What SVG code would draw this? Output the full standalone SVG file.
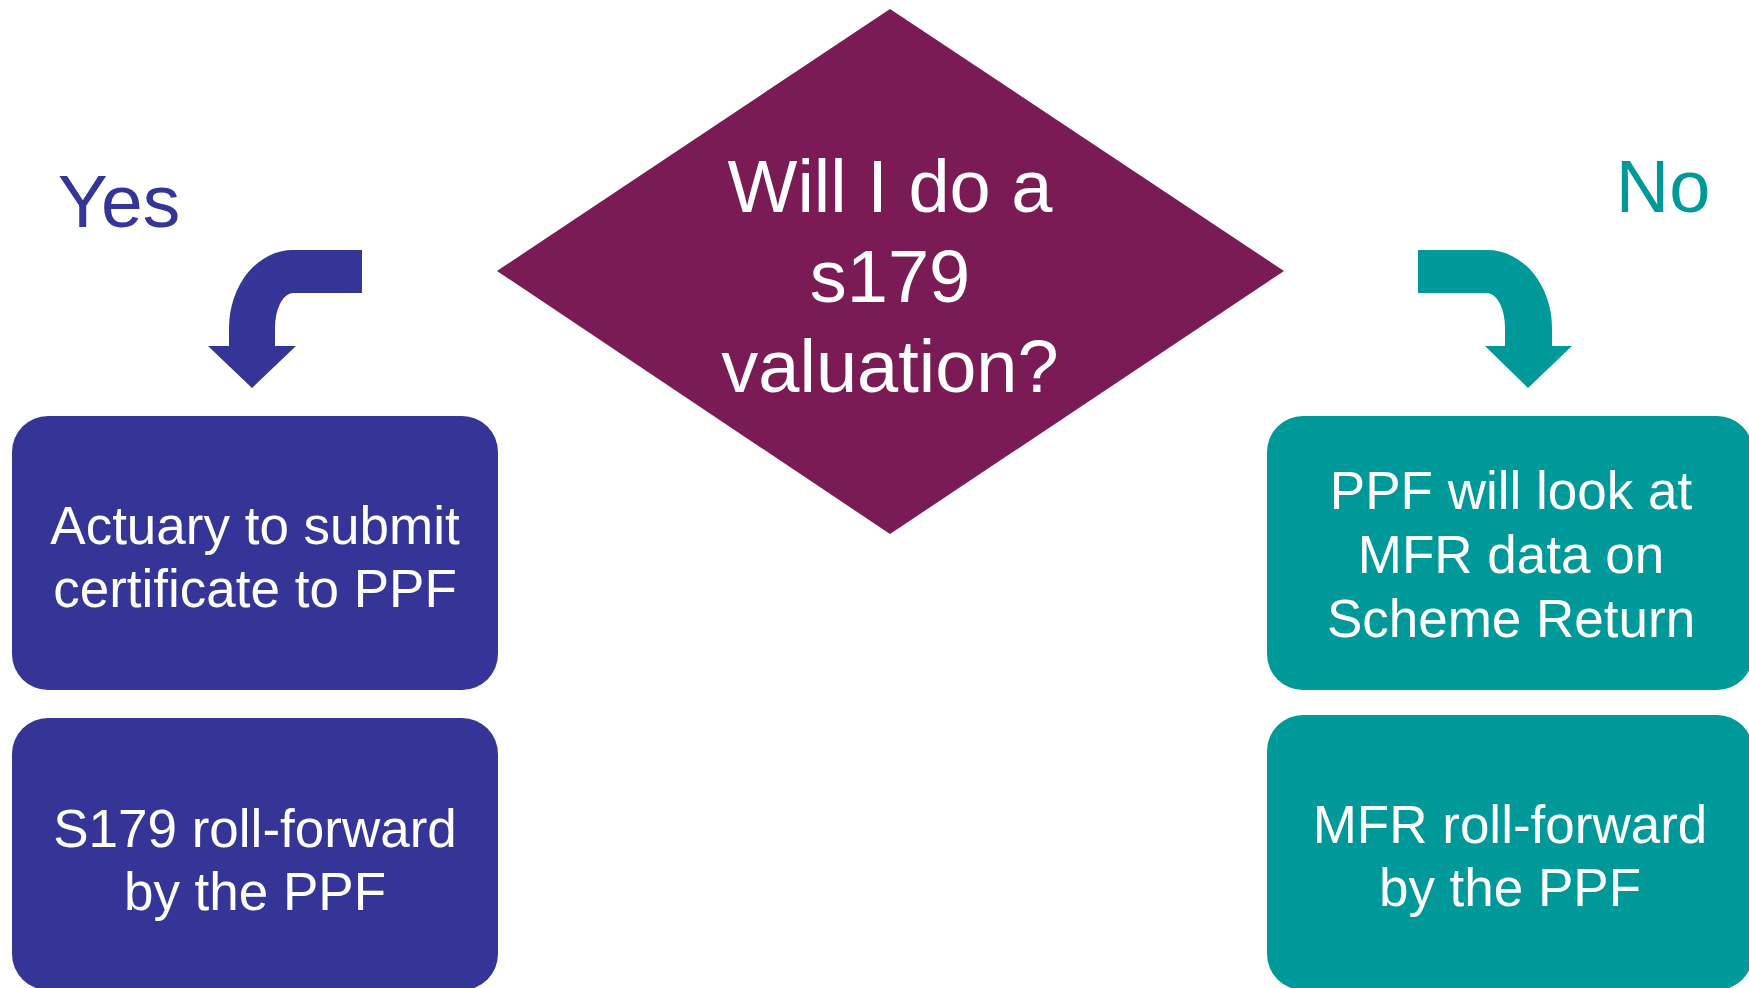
<svg xmlns="http://www.w3.org/2000/svg" width="1749" height="988" viewBox="0 0 1749 988">
<style>
text{font-family:"Liberation Sans",Arial,sans-serif;text-anchor:middle}
.w{fill:#ffffff;font-size:53px}
.q{fill:#ffffff;font-size:74px}
.blue{fill:#353598}
.teal{fill:#009999}
.dia{fill:#7a1b56}
</style>
<rect width="1749" height="988" fill="#ffffff"/>
<g id="decision">
<polygon class="dia" points="890,9 1284,271 890,534 497,271"/>
<text class="q" x="890" y="212">Will I do a</text>
<text class="q" x="890" y="302">s179</text>
<text class="q" x="890" y="392">valuation?</text>
</g>
<g id="connectors">
<path class="blue" d="M 362 250 L 293 250 A 64 78 0 0 0 229 328 L 229 346 L 208 346 L 252 388 L 296 346 L 275 346 L 275 328 A 18 35 0 0 1 293 293 L 362 293 Z"/>
<path class="teal" d="M 1418 250 L 1487 250 A 65 78 0 0 1 1552 328 L 1552 346 L 1572 346 L 1528 388 L 1485 346 L 1505 346 L 1505 328 A 18 35 0 0 0 1487 293 L 1418 293 Z"/>
<text class="blue" x="119" y="227" style="font-size:75px">Yes</text>
<text class="teal" x="1663" y="212" style="font-size:74px">No</text>
</g>
<g id="yes-certificate">
<rect class="blue" x="12" y="416" width="486" height="274" rx="36" ry="36"/>
<text class="w" x="255" y="544">Actuary to submit</text>
<text class="w" x="255" y="607">certificate to PPF</text>
</g>
<g id="yes-rollforward">
<rect class="blue" x="12" y="718" width="486" height="272" rx="36" ry="36"/>
<text class="w" x="255" y="847">S179 roll-forward</text>
<text class="w" x="255" y="910">by the PPF</text>
</g>
<g id="no-mfr-data">
<rect class="teal" x="1267" y="416" width="486" height="274" rx="36" ry="36"/>
<text class="w" x="1511" y="509">PPF will look at</text>
<text class="w" x="1511" y="573">MFR data on</text>
<text class="w" x="1511" y="637">Scheme Return</text>
</g>
<g id="no-rollforward">
<rect class="teal" x="1267" y="715" width="486" height="275" rx="36" ry="36"/>
<text class="w" x="1510" y="843">MFR roll-forward</text>
<text class="w" x="1510" y="906">by the PPF</text>
</g>
</svg>
